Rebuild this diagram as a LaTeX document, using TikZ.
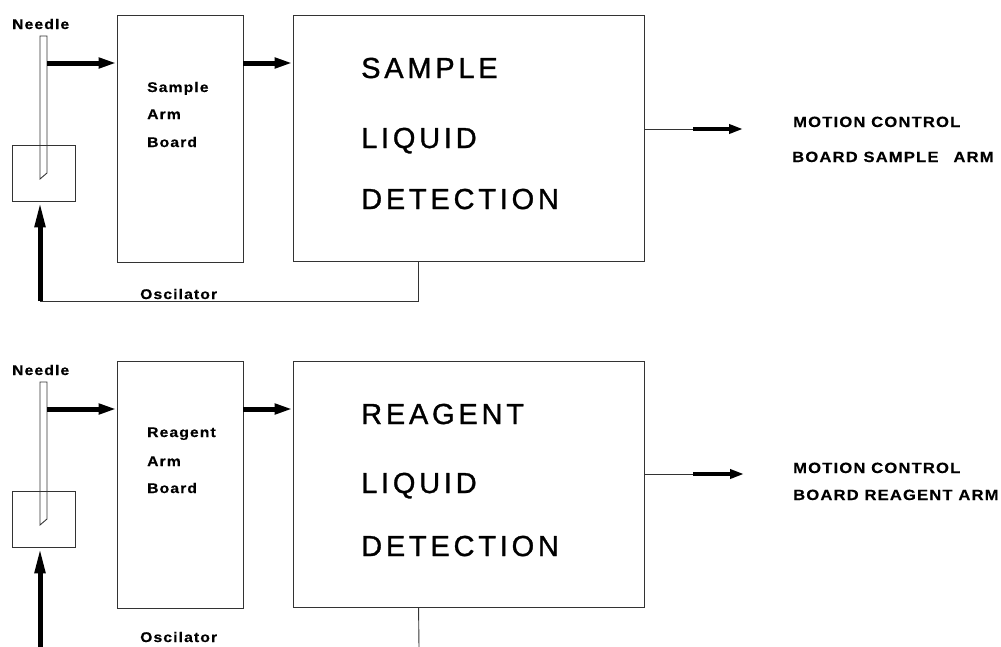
\documentclass[tikz,border=0pt]{standalone}
\usepackage{fontspec}
\setmainfont{Liberation Sans}
\newfontfamily\bigf[LetterSpace=13,FakeBold=1.1]{Liberation Sans}
\newfontfamily\smallf[LetterSpace=8,FakeStretch=1.12,FakeBold=0.4]{Liberation Sans}
\usetikzlibrary{arrows.meta,calc}
\tikzset{
  box/.style={draw=black!80, line width=0.9pt, minimum width=#1, inner sep=0pt},
  thin line/.style={draw=black!80, line width=0.9pt},
  fat arrow/.style={line width=5pt, -{Triangle[length=18pt,width=10pt]}},
  up arrow/.style={line width=5pt, -{Triangle[length=26pt,width=10pt]}},
  out arrow/.style={line width=4pt, -{Triangle[length=14pt,width=9pt]}},
  needle/.style={draw=black!80, line width=0.9pt},
  big/.style={anchor=base west, inner sep=0pt, font=\bigf\fontsize{29}{29}\selectfont},
  small/.style={anchor=base west, inner sep=0pt, font=\smallf\bfseries\fontsize{14}{14}\selectfont},
  motion/.style={anchor=base west, inner sep=0pt, font=\smallf\bfseries\fontsize{14.8}{14.8}\selectfont},
}
\begin{document}
\begin{tikzpicture}[x=1pt,y=-1pt]
\useasboundingbox (0,0) rectangle (1001,646);
% ---------------- upper chain ----------------
\node[box=63pt, minimum height=56pt] (cup) at (43.5,173) {};
\draw[needle] (40,36) coordinate (ntop) -- (47,36) -- (47,173) -- (40,179) -- cycle;
\node[box=126pt, minimum height=247pt] (board) at (180,138.5) {};
\node[box=351pt, minimum height=246pt] (det) at (468.5,138) {};
\coordinate (n1) at (47,63);
\draw[fat arrow] (n1) -- (n1 -| board.west);
\draw[fat arrow] (board.east |- n1) -- (det.west |- n1);
\coordinate (o1) at (693,129);
\coordinate (o1e) at (743,129);
\draw[thin line] (det.east |- o1) -- (o1);
\draw[out arrow] (o1) -- (o1e);
\coordinate (fb) at (40,301);
\coordinate (tap) at ($(det.south west)+(126,0)$);
\draw[up arrow] (fb) -- (fb |- cup.south);
\draw[thin line] (fb) -| (tap);
\node[small] (needleA) at (12,29) {Needle};
\node[small] (s1) at (147,92) {Sample};
\node[small] (s2) at (147,119) {Arm};
\node[small] (s3) at (147,147) {Board};
\node[big] (b1) at (361,78) {SAMPLE};
\node[big] (b2) at (361,148) {LIQUID};
\node[big] (b3) at (361,209) {DETECTION};
\node[motion] (m1) at (793,127) {MOTION CONTROL};
\node[motion] (m2) at (792,162) {BOARD SAMPLE\hspace{15pt}ARM};
\node[small] (osc1) at (140,299) {Oscilator};
% ---------------- lower chain ----------------
\node[box=63pt, minimum height=56pt] (cup2) at (43.5,519) {};
\draw[needle] (40,382) -- (47,382) -- (47,519) -- (40,525) -- cycle;
\node[box=126pt, minimum height=247pt] (board2) at (180,484.5) {};
\node[box=351pt, minimum height=246pt] (det2) at (468.5,484) {};
\coordinate (n2) at (47,409);
\draw[fat arrow] (n2) -- (n2 -| board2.west);
\draw[fat arrow] (board2.east |- n2) -- (det2.west |- n2);
\coordinate (o2) at (693,474);
\coordinate (o2e) at (744,474);
\draw[thin line] (det2.east |- o2) -- (o2);
\draw[out arrow] (o2) -- (o2e);
\coordinate (fb2) at (40,648);
\coordinate (tap2) at ($(det2.south west)+(126,0)$);
\coordinate (end2) at (419,648);
\draw[up arrow] (fb2) -- (fb2 |- cup2.south);
\draw[thin line] (tap2) -- (end2);
\node[small] (needleB) at (12,375) {Needle};
\node[small] (r1) at (147,437) {Reagent};
\node[small] (r2) at (147,466) {Arm};
\node[small] (r3) at (147,493) {Board};
\node[big] (c1) at (361,424) {REAGENT};
\node[big] (c2) at (361,493) {LIQUID};
\node[big] (c3) at (361,556) {DETECTION};
\node[motion] (m3) at (793,473) {MOTION CONTROL};
\node[motion] (m4) at (793,500) {BOARD REAGENT ARM};
\node[small] (osc2) at (140,642) {Oscilator};
\end{tikzpicture}
\end{document}
